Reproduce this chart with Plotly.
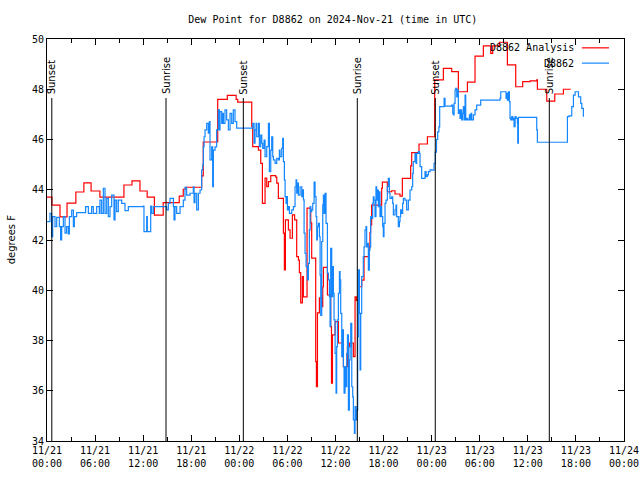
import pandas as pd
import plotly.graph_objects as go

START = pd.Timestamp("2024-11-21 00:00")

# D8862 Analysis (red), hours since 11/21 00:00 UTC and dew point (F)
analysis_hours = [0.0, 0.62, 1.62, 2.5, 3.6, 4.6, 5.5, 6.6, 9.6, 10.6, 11.6, 12.5, 13.4, 14.5,
                  16.5, 17.0, 17.3, 19.3, 19.5, 21.3, 22.5, 23.6, 23.8, 25.55, 25.67, 26.38,
                  26.67, 26.88, 27.21, 27.42, 27.63, 27.92, 28.54, 28.67, 28.87, 29.5, 29.62,
                  29.75, 30.12, 30.33, 30.62, 30.9, 31.16, 31.37, 31.49, 31.66, 31.87, 31.99,
                  32.45, 32.91, 33.03, 33.53, 33.62, 33.75, 33.99, 34.28, 34.41, 34.49, 34.99,
                  35.4, 35.5, 35.62, 35.95, 36.36, 36.99, 37.49, 37.73, 38.23, 38.44, 38.6,
                  38.97, 39.27, 39.56, 40.22, 40.3, 40.39, 40.51, 41.76, 41.85, 42.47, 43.01,
                  43.43, 44.05, 44.34, 45.38, 45.51, 46.42, 47.47, 48.38, 49.46, 50.5, 51.33,
                  52.46, 53.41, 54.45, 55.37, 55.62, 56.45, 57.45, 58.49, 59.36, 60.28, 61.11,
                  61.19, 62.36, 63.36, 64.44, 65.35]
analysis_vals = [43.71, 43.39, 42.92, 43.47, 43.91, 44.27, 43.95, 43.71, 44.19, 44.35, 43.95, 43.71,
                 42.99, 43.49, 43.75, 44.02, 44.1, 44.55, 45.9, 47.6, 47.76, 47.6, 47.49, 46.51,
                 45.72, 45.58, 45.05, 43.46, 44.46, 44.12, 44.32, 44.56, 44.5, 44.26, 43.66,
                 42.27, 40.81, 42.8, 42.4, 42.07, 43.0, 42.8, 41.34, 41.2, 40.7, 39.5, 40.54,
                 39.74, 43.27, 42.68, 41.28, 37.16, 36.16, 39.1, 39.7, 39.35, 40.14, 40.91,
                 39.81, 38.55, 36.3, 38.22, 38.75, 37.9, 36.96, 37.75, 37.9, 37.36, 39.74, 39.6,
                 40.14, 40.4, 41.34, 41.73, 42.29, 42.6, 43.39, 44.06, 44.3, 43.92, 43.96, 43.83,
                 43.75, 44.45, 44.95, 45.48, 45.82, 46.11, 48.37, 48.83, 48.7, 47.9, 48.28,
                 49.32, 49.73, 49.43, 49.73, 49.87, 48.97, 48.1, 48.3, 48.33, 48.37, 48.0,
                 47.53, 47.81, 48.0, 48.0]

# D8862 observations (blue)
obs_hours = [0.0, 0.37, 0.58, 0.71, 1.0, 1.21, 1.54, 1.7, 1.83, 2.04, 2.25, 2.45, 2.66, 2.79,
             3.08, 3.29, 3.41, 3.7, 4.82, 5.16, 5.57, 5.78, 6.2, 6.53, 6.61, 6.82, 7.03, 7.24,
             7.45, 7.65, 7.86, 8.07, 8.28, 8.36, 8.49, 8.69, 8.9, 9.11, 9.32, 9.73, 10.15,
             12.02, 12.1, 12.44, 12.52, 12.94, 13.06, 13.27, 14.93, 15.14, 15.35, 15.77, 15.85,
             15.97, 16.18, 16.6, 17.01, 17.22, 17.43, 17.85, 18.26, 18.35, 18.47, 18.68, 18.89,
             19.1, 19.3, 19.43, 19.51, 19.6, 19.72, 19.93, 20.13, 20.26, 20.34, 20.55, 20.67,
             20.76, 20.97, 21.17, 21.38, 21.51, 21.59, 21.8, 21.92, 22.01, 22.21, 22.42, 22.63,
             22.84, 23.05, 23.25, 23.46, 23.67, 25.67, 25.84, 25.96, 26.09, 26.17, 26.38, 26.5,
             26.67, 26.8, 26.92, 27.09, 27.21, 27.42, 27.63, 27.75, 27.92, 28.04, 28.17, 28.25,
             28.46, 28.67, 28.87, 29.0, 29.08, 29.29, 29.41, 29.5, 29.62, 29.71, 29.83, 29.91,
             30.0, 30.12, 30.25, 30.33, 30.54, 30.75, 30.95, 31.08, 31.16, 31.25, 31.37, 31.58,
             31.79, 31.91, 32.0, 32.08, 32.2, 32.33, 32.5, 32.62, 32.74, 32.83, 32.91, 33.03,
             33.16, 33.33, 33.45, 33.57, 33.66, 33.74, 33.87, 33.99, 34.08, 34.16, 34.28, 34.41,
             34.49, 34.57, 34.7, 34.82, 34.99, 35.11, 35.24, 35.32, 35.4, 35.53, 35.65, 35.74,
             35.82, 35.95, 36.07, 36.15, 36.24, 36.36, 36.49, 36.57, 36.65, 36.78, 36.9, 36.99,
             37.07, 37.19, 37.32, 37.4, 37.49, 37.61, 37.73, 37.82, 37.9, 38.03, 38.15, 38.23,
             38.36, 38.44, 38.57, 38.65, 38.77, 38.86, 38.98, 39.07, 39.15, 39.27, 39.47, 39.56,
             39.68, 39.81, 39.89, 39.97, 40.1, 40.22, 40.3, 40.39, 40.51, 40.64, 40.72, 40.81,
             40.93, 41.05, 41.14, 41.22, 41.35, 41.47, 41.55, 41.64, 41.76, 41.89, 41.97, 42.05,
             42.18, 42.3, 42.47, 42.59, 42.72, 42.8, 43.01, 43.14, 43.22, 43.43, 43.55, 43.63,
             43.84, 43.97, 44.05, 44.13, 44.26, 44.38, 44.47, 44.67, 44.88, 45.09, 45.3, 45.51,
             45.63, 45.71, 45.92, 46.05, 46.13, 46.34, 46.46, 46.55, 46.75, 46.96, 47.17, 47.3,
             47.46, 47.59, 47.8, 48.0, 48.3, 48.45, 48.6, 48.75, 48.9, 49.0, 49.55, 49.67, 50.5,
             50.63, 50.71, 50.8, 50.92, 51.0, 51.13, 51.21, 51.33, 51.46, 51.54, 51.63, 51.75,
             51.88, 51.96, 52.08, 52.17, 52.25, 52.38, 52.5, 52.71, 52.79, 52.91, 53.0, 53.21,
             53.41, 53.62, 54.12, 56.53, 56.62, 57.28, 57.37, 57.45, 57.57, 57.7, 57.78, 57.87,
             57.99, 58.12, 58.2, 58.28, 58.41, 58.53, 58.7, 58.74, 58.82, 61.11, 61.19, 64.94,
             65.15, 65.48, 65.69, 65.9, 66.32, 66.6, 66.73, 66.93]
obs_vals = [42.73, 43.06, 42.13, 42.93, 42.53, 42.9, 42.53, 42.0, 42.53, 42.93, 42.27, 42.53,
            42.24, 42.93, 43.19, 42.53, 42.93, 43.09, 43.33, 43.06, 43.33, 43.06, 43.33, 43.06,
            43.59, 43.06, 44.06, 43.06, 43.66, 42.93, 43.33, 43.79, 43.79, 42.8, 43.59, 43.13,
            43.59, 43.59, 43.46, 43.17, 43.33, 43.35, 42.33, 42.93, 42.33, 43.35, 43.06, 43.33,
            43.2, 43.46, 43.66, 43.33, 42.8, 43.33, 43.06, 43.33, 43.59, 44.1, 43.79, 43.86,
            44.12, 43.49, 43.86, 43.2, 43.86, 43.99, 44.79, 44.99, 45.71, 46.11, 46.38, 46.64,
            46.25, 46.71, 45.19, 45.71, 44.12, 45.58, 45.71, 46.38, 47.18, 46.38, 47.11, 46.64,
            47.04, 46.64, 47.18, 46.78, 46.38, 47.04, 46.64, 47.18, 46.71, 46.45, 46.64, 45.85,
            46.38, 46.64, 46.11, 46.64, 45.72, 46.18, 45.85, 45.65, 45.98, 45.32, 45.72, 46.64,
            44.72, 45.58, 46.11, 45.32, 45.19, 45.05, 45.25, 45.19, 45.58, 45.32, 45.65, 46.05,
            45.12, 44.39, 43.73, 43.46, 43.73, 43.2, 43.33, 43.06, 43.06, 43.2, 43.33, 44.12,
            44.39, 43.86, 44.26, 43.79, 44.12, 43.73, 44.0, 43.6, 42.27, 41.47, 40.94, 40.41,
            41.07, 42.4, 43.33, 43.13, 43.2, 43.46, 44.3, 43.73, 42.93, 42.0, 42.53, 42.66,
            42.13, 40.6, 39.0, 41.94, 43.4, 43.79, 43.06, 43.86, 42.66, 40.68, 40.41, 39.75,
            38.55, 41.67, 39.75, 40.94, 39.88, 38.82, 37.49, 35.9, 37.76, 38.82, 39.88, 40.74,
            40.41, 39.08, 37.36, 38.42, 36.96, 35.9, 36.96, 36.16, 37.49, 38.22, 35.23, 37.23,
            37.76, 38.68, 36.16, 35.76, 34.84, 34.3, 35.37, 34.84, 35.23, 38.15, 40.81, 39.08,
            36.83, 39.08, 40.54, 41.34, 41.73, 42.4, 42.53, 41.73, 41.87, 40.8, 41.6, 41.73,
            42.93, 42.86, 43.46, 43.72, 43.59, 42.93, 44.12, 43.59, 43.99, 43.33, 43.92, 42.93,
            43.33, 42.93, 42.53, 42.13, 42.66, 43.46, 43.59, 44.12, 44.45, 43.86, 43.66, 43.72,
            43.46, 43.0, 43.2, 43.39, 42.93, 42.53, 42.73, 42.93, 43.2, 43.06, 43.46, 43.66,
            43.59, 43.2, 43.59, 43.99, 44.12, 44.65, 45.12, 45.45, 45.05, 45.45, 45.52, 45.45,
            44.92, 44.45, 44.45, 44.72, 44.52, 44.59, 44.72, 44.79, 44.78, 45.05, 45.5, 46.0,
            46.3, 46.5, 47.31, 47.64, 47.33, 47.37, 47.04, 46.98, 47.44, 47.97, 48.04, 47.7,
            47.97, 47.04, 47.18, 46.84, 47.18, 46.78, 47.04, 47.31, 46.78, 47.77, 46.78, 46.84,
            46.78, 46.98, 46.78, 47.04, 46.78, 46.98, 47.18, 47.37, 47.57, 47.64, 47.9, 47.64,
            47.84, 47.57, 47.9, 47.51, 46.84, 46.78, 46.91, 46.78, 46.84, 46.51, 46.91, 46.84,
            46.64, 45.85, 46.88, 46.38, 45.89, 46.91, 46.94, 47.31, 47.77, 47.9, 47.7, 47.44,
            47.24, 46.91]

sun_hours = [0.6, 14.85, 24.5, 38.72, 48.45, 62.68]
sun_labels = ["Sunset", "Sunrise", "Sunset", "Sunrise", "Sunset", "Sunrise"]

legend_names = ["D8862 Analysis", "D8862"]
colors = ["#ff0000", "#1486ff"]

def to_time(hours):
    return [START + pd.Timedelta(hours=h) for h in hours]

MONO = "DejaVu Sans Mono"
fig = go.Figure()
fig.add_trace(go.Scatter(x=to_time(analysis_hours), y=analysis_vals, mode="lines",
                         line=dict(color=colors[0], width=1.2, shape="hv"),
                         name=legend_names[0], showlegend=False))
fig.add_trace(go.Scatter(x=to_time(obs_hours), y=obs_vals, mode="lines",
                         line=dict(color=colors[1], width=1.2, shape="hv"),
                         name=legend_names[1], showlegend=False))

Y_LINE_TOP = 47.65
for h, lab in zip(sun_hours, sun_labels):
    t = START + pd.Timedelta(hours=h)
    fig.add_shape(type="line", xref="x", yref="y", x0=t, x1=t, y0=34, y1=Y_LINE_TOP,
                  line=dict(color="black", width=1))
    fig.add_annotation(x=t, y=Y_LINE_TOP + 0.1, xref="x", yref="y", text=lab,
                       textangle=-90, showarrow=False, xanchor="center", yanchor="bottom",
                       font=dict(family="DejaVu Sans", size=10, color="black"), borderpad=0)

# legend (text to the left of the line sample, gnuplot style)
for i, (name, col) in enumerate(zip(legend_names, colors)):
    yp = 0.978 - i * 0.038
    fig.add_annotation(x=0.915, y=yp, xref="paper", yref="paper", text=name,
                       showarrow=False, xanchor="right", yanchor="middle",
                       font=dict(family=MONO, size=10, color="black"), borderpad=0)
    fig.add_shape(type="line", xref="paper", yref="paper", x0=0.927, x1=0.974, y0=yp, y1=yp,
                  line=dict(color=col, width=1.2))

fig.add_annotation(x=-0.062, y=0.5, xref="paper", yref="paper", text="degrees F",
                   textangle=-90, showarrow=False, xanchor="center", yanchor="middle",
                   font=dict(family="DejaVu Sans", size=10, color="black"))

fig.update_layout(
    width=640, height=480,
    margin=dict(l=47, r=16, t=39, b=39, autoexpand=False),
    paper_bgcolor="white", plot_bgcolor="white",
    title=dict(text="Dew Point for D8862 on 2024-Nov-21 (time in UTC)", x=0.52, xanchor="center",
               y=0.96, yanchor="middle", font=dict(family=MONO, size=10, color="black")),
    xaxis=dict(type="date", range=[START, START + pd.Timedelta(hours=72)], automargin=False,
               tick0=START, dtick=6 * 3600 * 1000, tickformat="%m/%d<br>%H:%M",
               ticks="inside", ticklen=6, tickcolor="black", showline=True, linecolor="black",
               linewidth=1, mirror="ticks", showgrid=False, zeroline=False,
               tickfont=dict(family=MONO, size=10, color="black"),
               minor=dict(dtick=3 * 3600 * 1000, ticks="inside", ticklen=4, tickcolor="black")),
    yaxis=dict(range=[34, 50], dtick=2, ticks="inside", ticklen=6, tickcolor="black",
               automargin=False,
               showline=True, linecolor="black", linewidth=1, mirror="ticks", showgrid=False,
               zeroline=False, tickfont=dict(family=MONO, size=10, color="black")),
)

fig.write_html("out.html", config={"displayModeBar": False},
               post_script="document.body.style.margin='0';document.body.style.overflow='hidden';")
